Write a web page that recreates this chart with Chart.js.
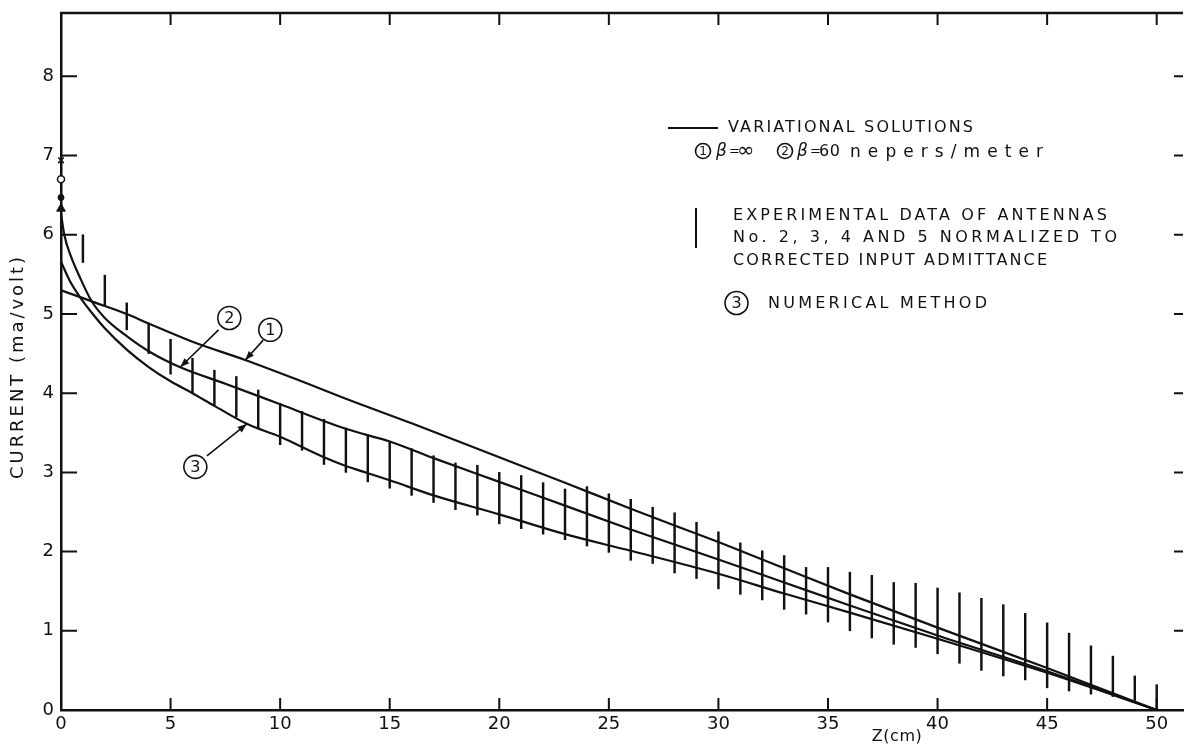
<!DOCTYPE html>
<html>
<head>
<meta charset="utf-8">
<script src="https://cdn.jsdelivr.net/npm/chart.js@4.4.1/dist/chart.umd.min.js"></script>
<style>
  html, body { margin: 0; padding: 0; background: #fff; }
</style>
</head>
<body>
<canvas id="current_chart" width="1189" height="744"></canvas>
<script>
// values: Z in cm, current in ma/volt
const zBetaInf = [0, 1.5, 3, 4, 6, 8.4, 10.8, 13, 16, 20, 23, 26, 30, 33, 36, 40, 45, 50];
const curBetaInf = [5.30, 5.15, 5.00, 4.88, 4.65, 4.42, 4.17, 3.93, 3.62, 3.19, 2.87, 2.54, 2.12, 1.79, 1.46, 1.04, 0.53, 0];

const zBeta60 = [0, 0.15, 0.45, 0.85, 1.4, 2, 3, 4, 5.5, 7.5, 10, 13, 15, 17, 20, 23, 26, 30, 33, 36, 40, 45, 50];
const curBeta60 = [6.27, 6.00, 5.73, 5.47, 5.16, 4.95, 4.72, 4.53, 4.32, 4.12, 3.86, 3.55, 3.39, 3.18, 2.88, 2.58, 2.28, 1.90, 1.61, 1.32, 0.94, 0.49, 0];

const zNumerical = [0, 0.4, 0.85, 1.45, 2, 3, 4, 5, 6, 7, 8.5, 10, 11, 12, 13, 14, 15, 17, 20, 23, 26, 30, 33, 36, 40, 45, 50];
const curNumerical = [5.66, 5.42, 5.22, 5.00, 4.82, 4.55, 4.33, 4.15, 4.00, 3.84, 3.61, 3.45, 3.32, 3.19, 3.08, 2.99, 2.90, 2.71, 2.47, 2.22, 2.01, 1.72, 1.47, 1.23, 0.90, 0.47, 0];

// experimental data, one bar per cm
const zExp = [1, 2, 3, 4, 5, 6, 7, 8, 9, 10, 11, 12, 13, 14, 15, 16, 17, 18, 19, 20,
  21, 22, 23, 24, 25, 26, 27, 28, 29, 30, 31, 32, 33, 34, 35, 36, 37, 38, 39, 40,
  41, 42, 43, 44, 45, 46, 47, 48, 49, 50];
const expLow = [5.65, 5.11, 4.80, 4.50, 4.24, 4.00, 3.85, 3.70, 3.55, 3.35,
  3.28, 3.10, 3.00, 2.88, 2.80, 2.71, 2.62, 2.53, 2.46, 2.35,
  2.29, 2.22, 2.15, 2.07, 1.99, 1.89, 1.85, 1.73, 1.66, 1.53,
  1.46, 1.39, 1.27, 1.21, 1.11, 1.00, 0.91, 0.83, 0.79, 0.71,
  0.59, 0.50, 0.43, 0.38, 0.28, 0.24, 0.20, 0.17, 0.12, 0.00];
const expHigh = [6.00, 5.49, 5.14, 4.87, 4.68, 4.44, 4.29, 4.21, 4.04, 3.87,
  3.77, 3.67, 3.56, 3.47, 3.38, 3.30, 3.21, 3.12, 3.09, 3.00,
  2.96, 2.87, 2.79, 2.82, 2.73, 2.66, 2.56, 2.49, 2.37, 2.25,
  2.11, 2.01, 1.95, 1.80, 1.80, 1.74, 1.70, 1.61, 1.60, 1.54,
  1.48, 1.41, 1.33, 1.22, 1.10, 0.97, 0.81, 0.68, 0.43, 0.32];

// feed point values at z = 0 (x, open circle, dot, triangle)
const feedCurrents = [6.94, 6.70, 6.47, 6.33];

const xTicks = [0, 5, 10, 15, 20, 25, 30, 35, 40, 45, 50];
const yTicks = [0, 1, 2, 3, 4, 5, 6, 7, 8];

const INK = '#111';
const FONT = '"DejaVu Sans", "Liberation Sans", sans-serif';

function pairs(xs, ys) {
  return xs.map((x, i) => ({ x: x, y: ys[i] }));
}

function curve(xs, ys) {
  return {
    type: 'line',
    data: pairs(xs, ys),
    borderColor: INK,
    borderWidth: 2.2,
    pointRadius: 0,
    cubicInterpolationMode: 'monotone',
    fill: false
  };
}

function spacedText(ctx, text, x, y, width, font) {
  ctx.font = font;
  ctx.letterSpacing = '0px';
  const w = ctx.measureText(text).width;
  const extra = text.length > 1 ? (width - w) / (text.length - 1) : 0;
  ctx.letterSpacing = extra + 'px';
  ctx.fillText(text, x, y);
  ctx.letterSpacing = '0px';
}

function circled(ctx, digit, cx, cy, r, size) {
  ctx.beginPath();
  ctx.arc(cx, cy, r, 0, Math.PI * 2);
  ctx.lineWidth = 1.6;
  ctx.stroke();
  ctx.font = size + 'px ' + FONT;
  ctx.textAlign = 'center';
  ctx.textBaseline = 'middle';
  ctx.fillText(digit, cx, cy + 1);
  ctx.textAlign = 'left';
}

function arrow(ctx, x1, y1, x2, y2) {
  ctx.beginPath();
  ctx.moveTo(x1, y1);
  ctx.lineTo(x2, y2);
  ctx.lineWidth = 1.6;
  ctx.stroke();
  const a = Math.atan2(y2 - y1, x2 - x1);
  const len = 9, half = 3.5;
  ctx.beginPath();
  ctx.moveTo(x2, y2);
  ctx.lineTo(x2 - len * Math.cos(a) + half * Math.sin(a), y2 - len * Math.sin(a) - half * Math.cos(a));
  ctx.lineTo(x2 - len * Math.cos(a) - half * Math.sin(a), y2 - len * Math.sin(a) + half * Math.cos(a));
  ctx.closePath();
  ctx.fill();
}

const paperMarks = {
  id: 'paperMarks',
  afterDraw(chart) {
    const ctx = chart.ctx;
    const { left, right, top, bottom } = chart.chartArea;
    const xs = chart.scales.x, ys = chart.scales.y;
    ctx.save();
    ctx.strokeStyle = INK;
    ctx.fillStyle = INK;
    ctx.lineCap = 'butt';

    // top frame line
    ctx.lineWidth = 2.5;
    ctx.beginPath();
    ctx.moveTo(left - 1, top);
    ctx.lineTo(right, top);
    ctx.stroke();

    // tick marks pointing into the plot
    ctx.lineWidth = 2;
    ctx.beginPath();
    yTicks.forEach(v => {
      if (v === 0) return;
      const y = ys.getPixelForValue(v);
      ctx.moveTo(left, y); ctx.lineTo(left + 16, y);
      ctx.moveTo(right - 9, y); ctx.lineTo(right, y);
    });
    xTicks.forEach(v => {
      if (v === 0) return;
      const x = xs.getPixelForValue(v);
      ctx.moveTo(x, bottom); ctx.lineTo(x, bottom - 12);
      ctx.moveTo(x, top); ctx.lineTo(x, top + 12);
    });
    ctx.stroke();

    // axis titles
    ctx.textBaseline = 'middle';
    ctx.textAlign = 'left';
    ctx.save();
    ctx.translate(18, 368);
    ctx.rotate(-Math.PI / 2);
    spacedText(ctx, 'CURRENT (ma/volt)', -111, 0, 222, '18px ' + FONT);
    ctx.restore();
    spacedText(ctx, 'Z(cm)', xs.getPixelForValue(37.0), 737, 50, '16px ' + FONT);

    // curve labels with arrows (placed in data units)
    const px = (z) => xs.getPixelForValue(z);
    const py = (c) => ys.getPixelForValue(c);
    const notes = [
      { t: '1', c: [9.55, 4.80], from: [9.23, 4.67], to: [8.41, 4.42] },
      { t: '2', c: [7.68, 4.95], from: [7.19, 4.80], to: [5.45, 4.33] },
      { t: '3', c: [6.13, 3.07], from: [6.66, 3.21], to: [8.47, 3.61] }
    ];
    notes.forEach(n => {
      circled(ctx, n.t, px(n.c[0]), py(n.c[1]), 11.5, 16);
      arrow(ctx, px(n.from[0]), py(n.from[1]), px(n.to[0]), py(n.to[1]));
    });

    // key
    ctx.lineWidth = 2;
    ctx.beginPath();
    ctx.moveTo(668, 128); ctx.lineTo(718, 128);
    ctx.stroke();
    ctx.textBaseline = 'middle';
    spacedText(ctx, 'VARIATIONAL SOLUTIONS', 728, 128, 245, '16px ' + FONT);

    circled(ctx, '1', 703, 151, 7.5, 12);
    ctx.textBaseline = 'middle';
    ctx.font = 'italic 17px ' + FONT;
    ctx.fillText('\u03B2', 716, 152);
    ctx.font = '13px ' + FONT;
    ctx.fillText('=', 729, 152);
    ctx.font = '21px ' + FONT;
    ctx.fillText('\u221E', 737, 152);

    circled(ctx, '2', 785, 151, 7.5, 12);
    ctx.textBaseline = 'middle';
    ctx.font = 'italic 17px ' + FONT;
    ctx.fillText('\u03B2', 797, 152);
    ctx.font = '13px ' + FONT;
    ctx.fillText('=', 810, 152);
    spacedText(ctx, '60', 819, 152, 21, '16px ' + FONT);
    spacedText(ctx, 'nepers/meter', 850, 153, 193, '17px ' + FONT);

    ctx.lineWidth = 2;
    ctx.beginPath();
    ctx.moveTo(696, 208); ctx.lineTo(696, 248);
    ctx.stroke();
    ctx.textBaseline = 'middle';
    spacedText(ctx, 'EXPERIMENTAL DATA OF ANTENNAS', 733, 216, 374, '16px ' + FONT);
    spacedText(ctx, 'No. 2, 3, 4 AND 5 NORMALIZED TO', 733, 238, 384, '16px ' + FONT);
    spacedText(ctx, 'CORRECTED INPUT ADMITTANCE', 733, 261, 314, '16px ' + FONT);

    circled(ctx, '3', 736.5, 303, 11.5, 16);
    ctx.textBaseline = 'middle';
    spacedText(ctx, 'NUMERICAL METHOD', 768, 304, 219, '16px ' + FONT);

    ctx.restore();
  }
};

const axisFont = { family: FONT, size: 18 };

new Chart(document.getElementById('current_chart'), {
  type: 'line',
  data: {
    datasets: [
      curve(zBetaInf, curBetaInf),
      curve(zBeta60, curBeta60),
      curve(zNumerical, curNumerical),
      {
        type: 'bar',
        data: zExp.map((z, i) => ({ x: z, y: [expLow[i], expHigh[i]] })),
        backgroundColor: INK,
        borderWidth: 0,
        barThickness: 1.8
      },
      {
        type: 'line',
        showLine: false,
        data: feedCurrents.map(v => ({ x: 0, y: v })),
        pointStyle: ['crossRot', 'circle', 'circle', 'triangle'],
        pointRadius: [4, 3.5, 3, 5],
        pointBackgroundColor: [INK, '#fff', INK, INK],
        pointBorderColor: INK,
        pointBorderWidth: [1.5, 1.5, 1, 1],
        clip: false
      }
    ]
  },
  options: {
    responsive: false,
    animation: false,
    events: [],
    layout: { padding: { top: 13, right: 0, bottom: 0, left: 0 } },
    plugins: {
      legend: { display: false },
      tooltip: { enabled: false }
    },
    scales: {
      x: {
        type: 'linear',
        offset: false,
        min: 0,
        max: 51.2,
        afterBuildTicks: s => { s.ticks = xTicks.map(v => ({ value: v })); },
        afterFit: s => { s.height = 34; s.paddingLeft = 0; s.paddingRight = 0; },
        ticks: { font: axisFont, color: INK, padding: 4, maxRotation: 0, autoSkip: false },
        grid: { display: true, offset: false, drawOnChartArea: false, drawTicks: false },
        border: { display: true, color: INK, width: 2.5 }
      },
      y: {
        type: 'linear',
        min: 0,
        max: 8.8,
        afterBuildTicks: s => { s.ticks = yTicks.map(v => ({ value: v })); },
        afterFit: s => { s.width = 61; s.paddingTop = 0; s.paddingBottom = 0; },
        ticks: { font: axisFont, color: INK, padding: 7, autoSkip: false },
        grid: { display: true, drawOnChartArea: false, drawTicks: false },
        border: { display: true, color: INK, width: 2.5 }
      }
    }
  },
  plugins: [paperMarks]
});
</script>
</body>
</html>
